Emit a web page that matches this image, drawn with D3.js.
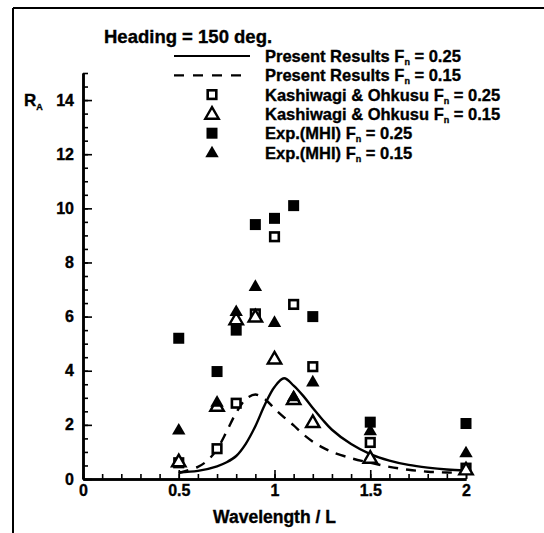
<!DOCTYPE html>
<html>
<head>
<meta charset="utf-8">
<script src="https://cdn.jsdelivr.net/npm/d3@7"></script>
<style>
  body { margin: 0; background: #fff; }
  svg { font-family: "Liberation Sans", Arial, sans-serif; font-weight: bold; }
  svg text { stroke: #000; stroke-width: 0.35px; }
</style>
</head>
<body>
<div id="chart-area"></div>
<script>
// Data
var wavelengths = [0.5, 0.7, 0.8, 0.9, 1.0, 1.1, 1.2, 1.5, 2.0];
var kashiwagi25 = [0.6, 1.12, 2.8, 6.1, 8.95, 6.45, 4.15, 1.35, 0.4];
var kashiwagi15 = [0.65, 2.7, 5.9, 6.0, 4.45, 2.95, 2.1, 0.78, 0.35];
var exp25 = [5.2, 3.97, 5.5, 9.4, 9.63, 10.1, 6.0, 2.1, 2.05];
var exp15 = [1.82, 2.85, 6.2, 7.13, 5.8, 3.05, 3.6, 1.8, 0.98];

// Present results (curves), x and y
var curveX25 = [0.5, 0.6, 0.7, 0.75, 0.8, 0.85, 0.9, 0.95, 1.0, 1.05, 1.1, 1.15, 1.2, 1.25, 1.3, 1.4, 1.5, 1.6, 1.7, 1.8, 1.9, 2.0];
var curveY25 = [0.25, 0.3, 0.47, 0.62, 0.85, 1.3, 1.95, 2.75, 3.4, 3.72, 3.45, 3.07, 2.62, 2.2, 1.82, 1.29, 0.92, 0.68, 0.52, 0.42, 0.35, 0.31];
var curveX15 = [0.5, 0.6, 0.65, 0.7, 0.75, 0.8, 0.85, 0.9, 0.95, 1.0, 1.05, 1.1, 1.15, 1.2, 1.25, 1.3, 1.4, 1.5, 1.6, 1.7, 1.8, 1.9, 2.0];
var curveY15 = [0.22, 0.45, 0.68, 1.1, 1.75, 2.45, 2.95, 3.12, 2.95, 2.6, 2.28, 1.98, 1.65, 1.38, 1.17, 1.0, 0.77, 0.6, 0.45, 0.34, 0.27, 0.24, 0.22];

var xTickLabels = [0, 0.5, 1, 1.5, 2];
var yTickLabels = [0, 2, 4, 6, 8, 10, 12, 14];

var legendItems = [
    { label: "Present Results F", val: " = 0.25", kind: "solid" },
    { label: "Present Results F", val: " = 0.15", kind: "dash" },
    { label: "Kashiwagi & Ohkusu F", val: " = 0.25", kind: "openSquare" },
    { label: "Kashiwagi & Ohkusu F", val: " = 0.15", kind: "openTri" },
    { label: "Exp.(MHI) F", val: " = 0.25", kind: "fillSquare" },
    { label: "Exp.(MHI) F", val: " = 0.15", kind: "fillTri" }
];

var W = 544, H = 533;
var svg = d3.select("#chart-area").append("svg")
    .attr("width", W)
    .attr("height", H);

// Frame lines (left and top)
svg.append("line").attr("x1", 13).attr("y1", 8).attr("x2", 13).attr("y2", H)
    .attr("stroke", "#000").attr("stroke-width", 2);
svg.append("line").attr("x1", 13).attr("y1", 8).attr("x2", W).attr("y2", 8)
    .attr("stroke", "#000").attr("stroke-width", 2);

// Scales
var x = d3.scaleLinear().domain([0, 2]).range([83, 466]);
var y = d3.scaleLinear().domain([0, 15]).range([479, 73]);

// Minor ticks
svg.append("g")
    .attr("transform", "translate(0," + y(0) + ")")
    .call(d3.axisBottom(x).tickValues(d3.range(0, 2.001, 0.1)).tickSize(-5).tickSizeOuter(0).tickFormat(""));
svg.append("g")
    .attr("transform", "translate(" + x(0) + ",0)")
    .call(d3.axisLeft(y).tickValues(d3.range(0, 15.001, 0.5)).tickSize(-5).tickSizeOuter(0).tickFormat(""));

// Major ticks with labels
svg.append("g")
    .attr("transform", "translate(0," + y(0) + ")")
    .call(d3.axisBottom(x).tickValues(xTickLabels).tickSize(-9).tickSizeOuter(0).tickPadding(6)
        .tickFormat(function(d){ return d; }));
svg.append("g")
    .attr("transform", "translate(" + x(0) + ",0)")
    .call(d3.axisLeft(y).tickValues(yTickLabels).tickSize(-9).tickSizeOuter(0).tickPadding(9)
        .tickFormat(function(d){ return d; }));

svg.selectAll(".tick line").attr("stroke", "#000").attr("stroke-width", 1.6);
svg.selectAll(".domain").attr("stroke", "#000").attr("stroke-width", 2.5);
svg.selectAll(".tick text")
    .attr("font-family", "'Liberation Sans', Arial, sans-serif")
    .attr("font-weight", "bold")
    .attr("font-size", "16px")
    .attr("fill", "#000");

// Axis titles
svg.append("text")
    .attr("x", x(1))
    .attr("y", 523)
    .attr("text-anchor", "middle")
    .attr("font-size", "17.5px")
    .text("Wavelength / L");

var ra = svg.append("text")
    .attr("x", 24)
    .attr("y", 106)
    .attr("font-size", "17px")
    .text("R");
ra.append("tspan").attr("font-size", "9px").attr("dy", 4).text("A");

svg.append("text")
    .attr("x", 104)
    .attr("y", 43)
    .attr("font-size", "18.5px")
    .text("Heading = 150 deg.");

// Marker drawing
var sq = 11;
var triPath = d3.symbol().type(d3.symbolTriangle).size(78);
function drawMarker(sel, kind) {
    if (kind == "openSquare" || kind == "fillSquare") {
        var s = kind == "openSquare" ? sq - 2.4 : sq;
        sel.append("rect")
            .attr("x", -s / 2).attr("y", -s / 2)
            .attr("width", s).attr("height", s)
            .attr("fill", kind == "fillSquare" ? "#000" : "#fff")
            .attr("stroke", kind == "fillSquare" ? "none" : "#000")
            .attr("stroke-width", 2.6);
    } else {
        sel.append("path")
            .attr("d", triPath)
            .attr("transform", "translate(0,1)")
            .attr("fill", kind == "fillTri" ? "#000" : "#fff")
            .attr("stroke", kind == "fillTri" ? "none" : "#000")
            .attr("stroke-width", 2.4)
            .attr("stroke-linejoin", "miter");
    }
}

// Curves
var line = d3.line()
    .x(function(d){ return x(d[0]); })
    .y(function(d){ return y(d[1]); })
    .curve(d3.curveCatmullRom.alpha(0.5));

svg.append("path")
    .datum(d3.zip(curveX25, curveY25))
    .attr("d", line)
    .attr("fill", "none")
    .attr("stroke", "#000")
    .attr("stroke-width", 2.4);

svg.append("path")
    .datum(d3.zip(curveX15, curveY15))
    .attr("d", line)
    .attr("fill", "none")
    .attr("stroke", "#000")
    .attr("stroke-width", 2.4)
    .attr("stroke-dasharray", "10,8");

// Points
var pointSets = [
    { vals: kashiwagi25, kind: "openSquare" },
    { vals: kashiwagi15, kind: "openTri" },
    { vals: exp25, kind: "fillSquare" },
    { vals: exp15, kind: "fillTri" }
];
pointSets.forEach(function(set){
    wavelengths.forEach(function(w, i){
        var g = svg.append("g")
            .attr("transform", "translate(" + x(w) + "," + y(set.vals[i]) + ")");
        drawMarker(g, set.kind);
    });
});

// Legend
var legend = svg.append("g").attr("transform", "translate(0,56)");
legendItems.forEach(function(item, i){
    var row = legend.append("g").attr("transform", "translate(0," + (i * 19.3) + ")");
    if (item.kind == "solid" || item.kind == "dash") {
        row.append("line")
            .attr("x1", 174).attr("x2", 250)
            .attr("stroke", "#000").attr("stroke-width", 2.2)
            .attr("stroke-dasharray", item.kind == "dash" ? "10,9" : null);
    } else {
        drawMarker(row.append("g").attr("transform", "translate(212,0)"), item.kind);
    }
    var t = row.append("text")
        .attr("x", 265)
        .attr("y", 6)
        .attr("font-size", "16.5px")
        .text(item.label);
    t.append("tspan").attr("font-size", "9px").attr("dy", 3).text("n");
    t.append("tspan").attr("dy", -3).text(item.val);
});
</script>
</body>
</html>
